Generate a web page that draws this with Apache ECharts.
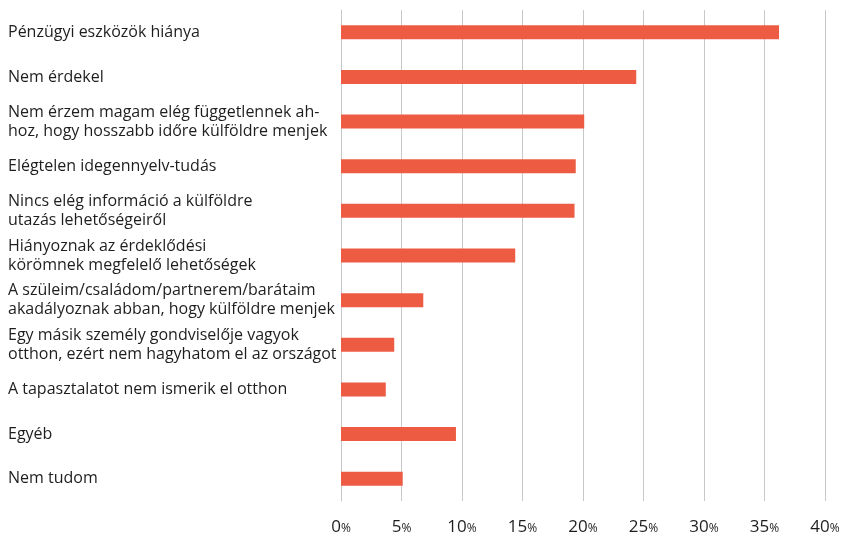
<!DOCTYPE html>
<html>
<head>
<meta charset="utf-8">
<script src="https://cdn.jsdelivr.net/npm/echarts@6/dist/echarts.min.js"></script>
<style>
  html, body { margin: 0; padding: 0; background: #fff; }
  #chart { width: 845px; height: 536px; }
</style>
</head>
<body>
<div id="chart"></div>
<script>
(function(){

  // kategóriák (felülről lefelé)
  var categories = [
    'Pénzügyi eszközök hiánya',
    'Nem érdekel',
    'Nem érzem magam elég függetlennek ah-\nhoz, hogy hosszabb időre külföldre menjek',
    'Elégtelen idegennyelv-tudás',
    'Nincs elég információ a külföldre\nutazás lehetőségeiről',
    'Hiányoznak az érdeklődési\nkörömnek megfelelő lehetőségek',
    'A szüleim/családom/partnerem/barátaim\nakadályoznak abban, hogy külföldre menjek',
    'Egy másik személy gondviselője vagyok\notthon, ezért nem hagyhatom el az országot',
    'A tapasztalatot nem ismerik el otthon',
    'Egyéb',
    'Nem tudom'
  ];
  // százalékok
  var values = [36.2, 24.4, 20.1, 19.4, 19.3, 14.4, 6.8, 4.4, 3.7, 9.5, 5.1];
  var xTicks = [0, 5, 10, 15, 20, 25, 30, 35, 40];

  var fontFamily = '"Open Sans", "Noto Sans", sans-serif';

  var option = {
    animation: false,
    grid: {
      left: 341,
      right: 20,
      top: 10,
      bottom: 35
    },
    xAxis: {
      type: 'value',
      min: xTicks[0],
      max: xTicks[xTicks.length - 1],
      interval: 5,
      axisLine: { show: false },
      axisTick: { show: false },
      splitLine: { lineStyle: { color: '#c8c8c8', width: 1 } },
      axisLabel: {
        margin: 18,
        formatter: function(v){ return '{n|' + v + '}{p|%}'; },
        rich: {
          n: { fontSize: 17, color: '#1e1e1e', fontFamily: fontFamily },
          p: { fontSize: 12, color: '#1e1e1e', fontFamily: fontFamily, padding: [3, 0, 0, 0] }
        }
      }
    },
    yAxis: {
      type: 'category',
      inverse: true,
      data: categories,
      axisLine: { show: true, lineStyle: { color: '#c8c8c8' } },
      axisTick: { show: false },
      axisLabel: {
        align: 'left',
        margin: 333,
        color: '#1e1e1e',
        fontSize: 16,
        lineHeight: 19,
        fontFamily: fontFamily
      }
    },
    series: [
      {
        type: 'bar',
        data: values,
        barWidth: 14,
        itemStyle: { color: '#ee5b43' }
      }
    ]
  };

  echarts.init(document.getElementById('chart')).setOption(option);

})();
</script>
</body>
</html>
